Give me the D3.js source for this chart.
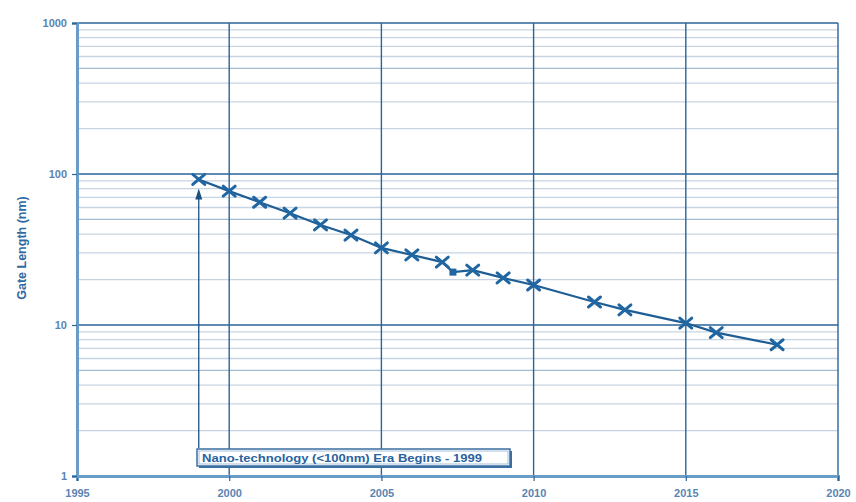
<!DOCTYPE html>
<html><head><meta charset="utf-8">
<script src="https://cdn.jsdelivr.net/npm/d3@7"></script>
<style>body{margin:0;background:#fff}svg{display:block}</style>
</head><body>
<svg id="c" width="856" height="502"></svg>
<script>
const years = [1999,2000,2001,2002,2003,2004,2005,2006,2007,2008,2009,2010,2012,2013,2015,2016,2018];
const gateLength = [92,77,65,55,46,39.4,32.4,29.1,26.1,23.1,20.5,18.4,14.2,12.6,10.3,8.9,7.4];
const extraYear = [2007.35];
const extraValue = [22.4];
const xTicks = [1995,2000,2005,2010,2015,2020];
const yTicks = [1,10,100,1000];
const annotation = "Nano-technology (<100nm) Era Begins - 1999";
const yLabel = "Gate Length (nm)";

const svg = d3.select("#c");
const L=77,R=838,T=23,B=476;
const x = d3.scaleLinear().domain([1995,2020]).range([L,R]);
const y = d3.scaleLog().domain([1,1000]).range([B,T]);
const blue="#2a6499", axisC="#6a9cc8";
const font="Liberation Sans, Arial, sans-serif";

// minor grid
const minors=[];
for(let d=1; d<1000; d*=10) for(let k=2;k<=9;k++) minors.push(d*k);
svg.append("g").selectAll("line").data(minors).join("line")
  .attr("x1",L).attr("x2",R).attr("y1",d=>y(d)).attr("y2",d=>y(d))
  .attr("stroke",(d)=>{const m=d/Math.pow(10,Math.floor(Math.log10(d)+1e-9));return m===5?"#a3bbd1":"#c6d4e1";})
  .attr("stroke-width",1.3);
// major horizontal grid
svg.append("g").selectAll("line").data(yTicks.slice(1)).join("line")
  .attr("x1",L).attr("x2",R).attr("y1",d=>y(d)).attr("y2",d=>y(d))
  .attr("stroke",blue).attr("stroke-width",1.4);
// vertical grid
svg.append("g").selectAll("line").data(xTicks.slice(1)).join("line")
  .attr("x1",d=>x(d)).attr("x2",d=>x(d)).attr("y1",T).attr("y2",B)
  .attr("stroke",blue).attr("stroke-width",1.4);

// axes
const xa = svg.append("g").attr("transform",`translate(0,${B})`)
  .call(d3.axisBottom(x).tickValues(xTicks).tickFormat(d3.format("d")).tickSize(5).tickPadding(8));
const ya = svg.append("g").attr("transform",`translate(${L},0)`)
  .call(d3.axisLeft(y).tickValues(yTicks).tickFormat(d3.format("d")).tickSize(5).tickPadding(5));
[xa,ya].forEach(a=>{
  a.select(".domain").attr("stroke",axisC).attr("stroke-width",3);
  a.selectAll(".tick line").attr("stroke",blue).attr("stroke-width",1.2);
  a.selectAll("text").attr("fill","#5a84b2").attr("font-family",font)
   .attr("font-size",11).attr("font-weight","bold");
});

// y label
svg.append("text").attr("transform","translate(26,248) rotate(-90)")
  .attr("text-anchor","middle").attr("fill","#2f6aa3")
  .attr("font-family",font).attr("font-size",12.5).attr("font-weight","bold")
  .text(yLabel);

// arrow
const ax = x(years[0]);
const tipY = y(gateLength[0])+9;
svg.append("line").attr("x1",ax).attr("x2",ax).attr("y1",448).attr("y2",tipY+4)
  .attr("stroke","#1d4f80").attr("stroke-width",1.3);
svg.append("path").attr("d",`M${ax-3.5},${tipY+11} L${ax},${tipY} L${ax+3.5},${tipY+11} Z`).attr("fill","#1d4f80");

// line
const pts = years.map((yr,i)=>({yr,v:gateLength[i]}));
const extras = extraYear.map((yr,i)=>({yr,v:extraValue[i]}));
const allPts = pts.concat(extras).sort((a,b)=>a.yr-b.yr);
svg.append("path").datum(allPts)
  .attr("d",d3.line().x(d=>x(d.yr)).y(d=>y(d.v)))
  .attr("fill","none").attr("stroke","#1f5e95").attr("stroke-width",2.2);
// markers
const s=6;
svg.append("g").selectAll("path").data(pts).join("path")
  .attr("d",d=>{const cx=x(d.yr),cy=y(d.v);return `M${cx-s},${cy-s+1}L${cx+s},${cy+s-1}M${cx-s},${cy+s-1}L${cx+s},${cy-s+1}`;})
  .attr("stroke","#1f66a3").attr("stroke-width",3).attr("stroke-linecap","round");
svg.append("g").selectAll("rect").data(extras).join("rect")
  .attr("x",d=>x(d.yr)-3.5).attr("y",d=>y(d.v)-3.5).attr("width",7).attr("height",7)
  .attr("fill","#1f66a3");

// annotation box
const bx=197, by=449, bw=313, bh=17;
svg.append("rect").attr("x",bx+2).attr("y",by+2).attr("width",bw).attr("height",bh).attr("fill","#3b6f9f");
svg.append("rect").attr("x",bx).attr("y",by).attr("width",bw).attr("height",bh)
  .attr("fill","#fff").attr("stroke","#3b6f9f").attr("stroke-width",1.5);
svg.append("rect").attr("x",bx+2).attr("y",by+2).attr("width",bw-4).attr("height",bh-4)
  .attr("fill","none").attr("stroke","#8fb0cf").attr("stroke-width",0.8);
svg.append("text").attr("x",bx+5).attr("y",by+12.5).attr("fill","#2a62a0")
  .attr("font-family",font).attr("font-size",10.5).attr("font-weight","bold")
  .attr("textLength",280).attr("lengthAdjust","spacingAndGlyphs")
  .text(annotation);
</script>
</body></html>
